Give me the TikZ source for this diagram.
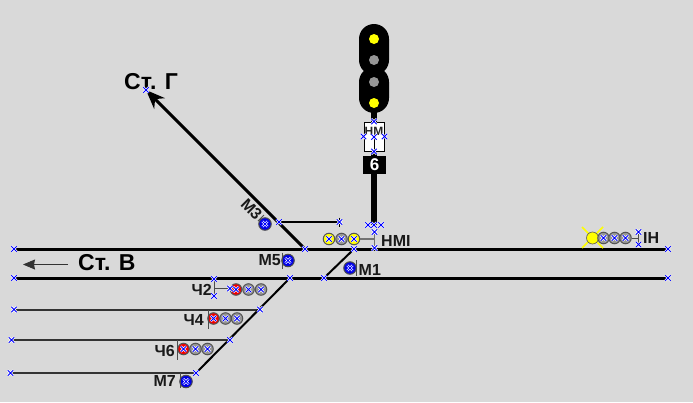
\documentclass[tikz,border=0pt]{standalone}
\usepackage{fontspec}
\setmainfont{Liberation Sans}
\usetikzlibrary{arrows.meta,shapes.misc}
\definecolor{bgcol}{RGB}{217,217,217}
\definecolor{lampgrey}{RGB}{150,150,150}
\definecolor{lampedge}{RGB}{85,85,85}
\definecolor{lampred}{RGB}{240,0,0}
\definecolor{lampblue}{RGB}{0,0,230}
\definecolor{lampyellow}{RGB}{255,255,0}
\begin{document}
\begin{tikzpicture}[
    x=1pt, y=-1pt,
    handle/.style={cross out, draw=white, line width=2.2pt, minimum size=3.2pt,
                   inner sep=0pt, postaction={draw=blue, line width=.9pt}},
    lamp/.style={circle, draw=lampedge, line width=1pt, minimum size=11.5pt, inner sep=0pt,
                 fill=lampgrey, label={[handle]center:}},
    lampy/.style={lamp, fill=lampyellow},
    lampr/.style={lamp, fill=lampred},
    lampb/.style={lamp, fill=lampblue, minimum size=12.5pt, draw=black!70},
    head/.style={circle, fill=#1, minimum size=10pt, inner sep=0pt},
    track/.style={line width=3pt},
    siding/.style={line width=2pt, black!80},
    tick/.style={line width=.8pt, black!70},
    lab/.style={font=\bfseries\fontsize{16}{16}\selectfont, text=black!90, inner sep=0pt},
    big/.style={font=\bfseries\fontsize{23}{23}\selectfont, text=black, inner sep=0pt},
]
\fill[bgcol] (0,0) rectangle (693,402);
\useasboundingbox (0,0) rectangle (693,402);

% Track points
\coordinate (t1l) at (14,249);
\coordinate (t1r) at (668,249);
\coordinate (t2l) at (14,278);
\coordinate (t2r) at (668,278);
\coordinate (t3l) at (14,309.5);
\coordinate (t3r) at (260,309.5);
\coordinate (t4l) at (11.5,340);
\coordinate (t4r) at (230,340);
\coordinate (t5l) at (10.5,373);
\coordinate (t5r) at (196,373);
\coordinate (fan) at (290,278);
\coordinate (sw1) at (305,249);
\coordinate (sw2) at (354,249);
\coordinate (sw3) at (324,278);
\coordinate (stg) at (146,90);
\coordinate (m3a) at (279,222);
\coordinate (m3b) at (339.5,222);
\coordinate (m3c) at (339.5,217.5);
\coordinate (m3d) at (339.5,226.5);

% Tracks
\draw[track] (t1l) -- (t1r);
\draw[track] (t2l) -- (t2r);
\draw[siding] (t3l) -- (t3r);
\draw[siding] (t4l) -- (t4r);
\draw[siding] (t5l) -- (t5r);
\draw[line width=2pt] (t5r) -- (fan);
\draw[line width=2pt] (sw2) -- (sw3);
\draw[track, -{Stealth[length=19pt,width=15pt]}] (sw1) -- (stg);
\draw[line width=1.5pt] (m3a) -- (m3b);
\draw[line width=1.2pt] (m3c) -- (m3d);

% Main signal
\coordinate (mtop) at (374,110);
\coordinate (mbot) at (374,225);
\draw[line width=5.5pt] (mtop) -- (mbot);
\node[fill=black, rounded corners=15pt, minimum width=30pt, minimum height=51pt,
      inner sep=0pt] (capu) at (374,49.5) {};
\node[fill=black, rounded corners=15pt, minimum width=30pt, minimum height=46pt,
      inner sep=0pt] (capl) at (374,90) {};
\node[head=lampyellow] (h1) at (374,39) {};
\node[head=lampgrey] (h2) at (374,60) {};
\node[head=lampgrey] (h3) at (374,82) {};
\node[head=lampyellow] (h4) at (374,103) {};
\node[draw, fill=white, line width=1pt, minimum width=20pt, minimum height=29pt,
      inner sep=0pt] (hmbox) at (374,136.5) {};
\node[font=\bfseries\fontsize{12}{12}\selectfont, text=black!85, inner sep=0pt] (hmtxt) at (374,131.5) {НМ};
\coordinate (hmm) at (374,137);
\draw[line width=.8pt] (hmm) -- (hmbox.south);
\node[fill=black, text=white, minimum width=23pt, minimum height=18pt, inner sep=0pt,
      font=\bfseries\fontsize{17}{17}\selectfont] (six) at (374.5,165) {6};

% Shunt signals
\node[lampy] (y1) at (329,239) {};
\node[lamp] (y2) at (341.5,239) {};
\node[lampy] (y3) at (354,239) {};
\coordinate (hm1) at (374.5,232);
\coordinate (hm2) at (374.5,248);
\coordinate (hm3) at (374.5,239);
\draw[line width=1.2pt, black!55] (y3) -- (hm3);
\draw[line width=1.2pt, black!55] (hm1) -- (hm2);
\node[lab, anchor=west] (hmi) at (381,240.5) {НМI};

\node[lampb] (m3) at (265,224) {};
\node[lab, rotate=-45] (m3t) at (251.5,209.5) {М3};
\coordinate (m3e) at (258,221);
\coordinate (m3f) at (264,215);
\draw[tick] (m3e) -- (m3f);
\node[lampb] (m5) at (288,260.5) {};
\node[lab, anchor=east] (m5t) at (281,260.5) {М5};
\coordinate (m5a) at (282.5,252.5);
\coordinate (m5b) at (282.5,268.5);
\draw[tick] (m5a) -- (m5b);
\node[lampb] (m1) at (350,268) {};
\node[lab, anchor=west] (m1t) at (358.5,270) {М1};
\coordinate (m1a) at (356.5,260);
\coordinate (m1b) at (356.5,276);
\draw[tick] (m1a) -- (m1b);
\node[lampb] (m7) at (186,381.5) {};
\node[lab, anchor=east] (m7t) at (176,381) {М7};
\coordinate (m7a) at (180,373);
\coordinate (m7b) at (180,388);
\draw[tick] (m7a) -- (m7b);

\node[lampr] (c2a) at (236,289.5) {};
\node[lamp] (c2b) at (248.5,289.5) {};
\node[lamp] (c2c) at (261,289.5) {};
\node[lab, anchor=east] (c2t) at (212,290) {Ч2};
\coordinate (c2d) at (214,279);
\coordinate (c2e) at (214,296);
\coordinate (c2f) at (214,288.5);
\coordinate (c2g) at (230,288.5);
\draw[tick] (c2d) -- (c2e);
\draw[tick] (c2f) -- (c2g);

\node[lampr] (c4a) at (213.5,318.5) {};
\node[lamp] (c4b) at (225.5,318.5) {};
\node[lamp] (c4c) at (237,318.5) {};
\node[lab, anchor=east] (c4t) at (204,319.5) {Ч4};
\coordinate (c4d) at (208,310);
\coordinate (c4e) at (208,329);
\draw[tick] (c4d) -- (c4e);

\node[lampr] (c6a) at (183.5,349) {};
\node[lamp] (c6b) at (195.5,349) {};
\node[lamp] (c6c) at (207.5,349) {};
\node[lab, anchor=east] (c6t) at (175,350.5) {Ч6};
\coordinate (c6d) at (177.5,340);
\coordinate (c6e) at (177.5,360);
\draw[tick] (c6d) -- (c6e);

% Signal IН
\coordinate (ray1) at (582,227);
\coordinate (ray2) at (603,248);
\coordinate (ray3) at (603,227);
\coordinate (ray4) at (582,248);
\draw[line width=1.5pt, lampyellow] (ray1) -- (ray2);
\draw[line width=1.5pt, lampyellow] (ray3) -- (ray4);
\node[circle, fill=lampyellow, draw=lampedge, line width=.6pt, minimum size=12pt, inner sep=0pt] (i1) at (592.5,238) {};
\node[lamp] (i2) at (603.5,238) {};
\node[lamp] (i3) at (614.5,238) {};
\node[lamp] (i4) at (625.5,238) {};
\coordinate (in1) at (638.5,232);
\coordinate (in2) at (638.5,244.5);
\coordinate (in3) at (638.5,238);
\draw[tick] (i4) -- (in3);
\draw[line width=1pt, black!70] (in1) -- (in2);
\node[lab, anchor=west] (int) at (643,237.5) {IН};

% Directions
\coordinate (va) at (68,264.5);
\coordinate (vb) at (23,264.5);
\draw[line width=.9pt, black!80, -{Stealth[length=12pt,width=10pt,inset=1pt]}] (va) -- (vb);
\node[big, anchor=west] (stv) at (78,263) {Ст. В};
\node[big, anchor=west] (stgt) at (124,82) {Ст. Г};

% Grips
\foreach \p in {t1l,t1r,t2l,t2r,t3l,t3r,t4l,t4r,t5l,t5r,fan,sw1,sw2,sw3,stg,m3a,hm1,hm2,
                in1,in2,c2d,c2e,c2g,hmbox.north,hmbox.south,hmbox.west,hmbox.east,hmm}
    \node[handle] (g-\p) at (\p) {};
\node[handle] (g1) at (368,225) {};
\node[handle] (g2) at (374,225) {};
\node[handle] (g3) at (381,225) {};
\node[handle] (g4) at (339.5,222) {};
\end{tikzpicture}
\end{document}
